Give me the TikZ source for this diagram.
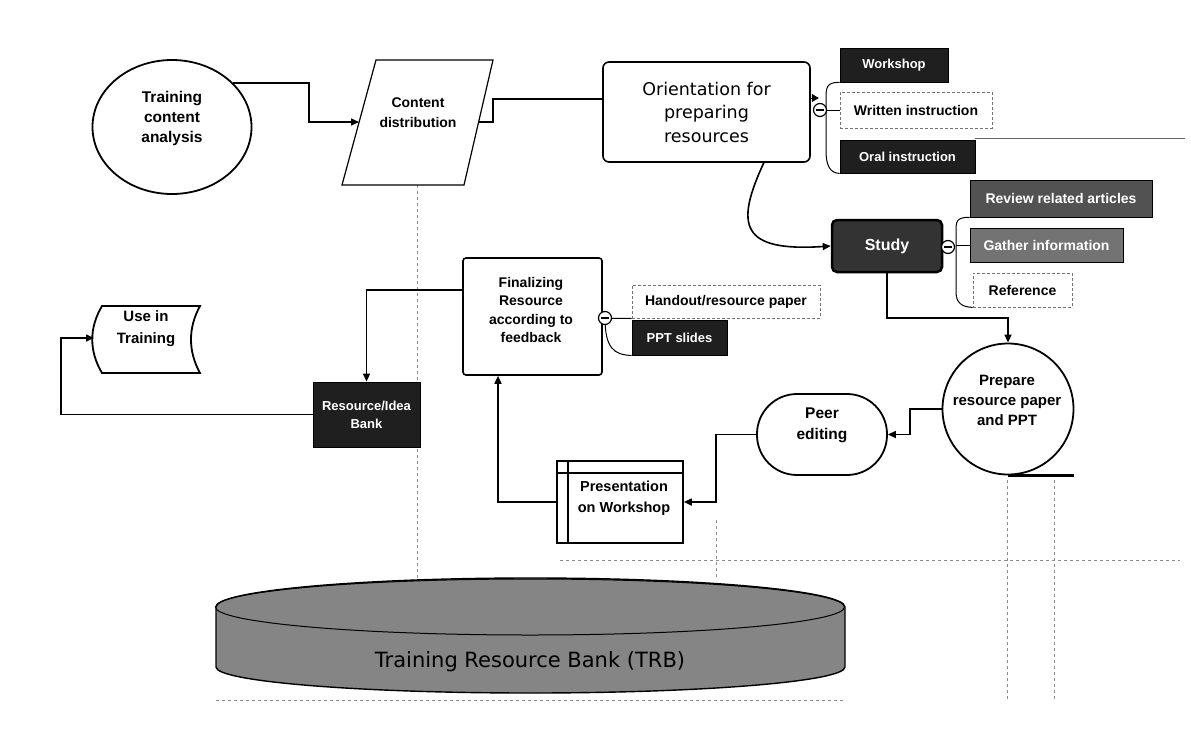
\documentclass[tikz,border=0pt]{standalone}
\usepackage{fontspec}
\setmainfont{DejaVu Sans}
\newfontfamily\libsans{Liberation Sans}
\usetikzlibrary{arrows.meta,calc,shapes.geometric}
\tikzset{
 conn/.style={line width=1.6pt,-{Triangle[length=8pt,width=7pt]}},
 wire/.style={line width=1.6pt},
 thin/.style={line width=1pt},
 blbl/.style={font=\libsans\bfseries\fontsize{14}{20}\selectfont,align=center,inner sep=0pt},
 darkbox/.style={draw=black,fill=black!88,text=white,font=\libsans\bfseries\fontsize{13}{15}\selectfont,inner sep=0pt,line width=0.8pt},
 litebox/.style={draw=black!55,densely dashed,fill=white,font=\libsans\bfseries\fontsize{14}{16}\selectfont,inner sep=0pt,line width=0.8pt},
 minus/.style={circle,draw,fill=white,line width=1.2pt,minimum size=13pt,inner sep=0pt},
 gridl/.style={black!45,line width=0.6pt,dashed},
}
\begin{document}
\begin{tikzpicture}[x=1pt,y=-1pt]
\useasboundingbox (0,0) rectangle (1191,742);
% background guide lines
\draw[gridl] (417,185) -- (417,578);
\draw[black!60,line width=0.6pt] (975,138) -- (1185,138);
\draw[gridl] (1007,480) -- (1007,700);
\draw[gridl] (1054,480) -- (1054,700);
\draw[gridl] (216,700) -- (845,700);
\draw[gridl] (716,520) -- (716,580);
\draw[gridl] (560,560) -- (1180,560);

% nodes
\node[draw,ellipse,line width=1.8pt,minimum width=159pt,minimum height=134pt,inner sep=0pt] (tca) at (172,127) {};
\node[blbl,font=\libsans\bfseries\fontsize{15.5}{20}\selectfont] (tcat) at (172,118) {Training\\content\\analysis};

\draw[line width=1.2pt] (342,185) -- (376,60) -- (493,60) -- (464,185) -- cycle;
\node[blbl] (cd) at (418,113) {Content\\distribution};
\coordinate (cdin) at (359,122);
\coordinate (cdout) at (479,122);

\node[draw,rounded corners=6pt,line width=1.6pt,minimum width=207pt,minimum height=100pt,align=center,font=\fontsize{17.5}{23.5}\selectfont] (or) at (706.5,112) {Orientation for\\preparing\\resources};

\node[darkbox,minimum width=108pt,minimum height=34pt] (ws) at (894,65) {Workshop};
\node[litebox,minimum width=152pt,minimum height=36pt] (wi) at (916,110) {Written instruction};
\node[darkbox,minimum width=135pt,minimum height=33pt] (oi) at (907.5,156.5) {Oral instruction};

\node[draw,rounded corners=5pt,line width=2.5pt,fill=black!80,text=white,minimum width=110pt,minimum height=52pt,font=\libsans\bfseries\fontsize{16}{18}\selectfont] (study) at (887,246) {Study};
\node[darkbox,fill=black!68,minimum width=182pt,minimum height=37pt,font=\libsans\bfseries\fontsize{14}{16}\selectfont] (rv) at (1061,198.5) {Review related articles};
\node[darkbox,fill=black!55,minimum width=153pt,minimum height=34pt,font=\libsans\bfseries\fontsize{14}{16}\selectfont] (gi) at (1046.5,245) {Gather information};
\node[litebox,minimum width=99pt,minimum height=34pt] (rf) at (1022.5,290) {Reference};

\node[draw,circle,line width=1.8pt,minimum size=131pt,inner sep=0pt] (prep) at (1008,409) {};
\node[blbl,font=\libsans\bfseries\fontsize{15}{20}\selectfont] at (1007,400) {Prepare\\resource paper\\and PPT};

\node[draw,rounded corners=40pt,line width=1.8pt,minimum width=130pt,minimum height=81pt] (peer) at (822,434.5) {};
\node[blbl,font=\libsans\bfseries\fontsize{15.5}{21}\selectfont] at (822,425.5) {Peer\\editing};

\node[draw,line width=1.6pt,minimum width=126pt,minimum height=82pt] (pres) at (620,502) {};
\draw[line width=1.6pt] (568,461) -- (568,543);
\draw[line width=1.6pt] (557,473) -- (683,473);
\node[blbl,font=\libsans\bfseries\fontsize{14.5}{21}\selectfont] at (624,498.5) {Presentation\\on Workshop};

\node[draw,rounded corners=3pt,line width=1.6pt,minimum width=139pt,minimum height=117pt] (fin) at (532.5,316.5) {};
\node[blbl,font=\libsans\bfseries\fontsize{14}{18.5}\selectfont] at (531,310) {Finalizing\\Resource\\according to\\feedback};

\node[litebox,minimum width=188pt,minimum height=33pt] (ho) at (726,301.5) {Handout/resource paper};
\node[darkbox,minimum width=95pt,minimum height=35pt] (ppt) at (679.5,337.5) {PPT slides};

\node[darkbox,minimum width=107pt,minimum height=65pt,align=center,font=\libsans\bfseries\fontsize{13}{18}\selectfont] (bank) at (366.5,414.5) {Resource/Idea\\Bank};

\draw[line width=1.8pt] (102,306) -- (200,306) .. controls (188,328) and (188,351) .. (200,373) -- (102,373) .. controls (89,351) and (89,328) .. (102,306) -- cycle;
\node[blbl,font=\libsans\bfseries\fontsize{15}{22}\selectfont] (uitxt) at (146,329) {Use in\\Training};
\coordinate (uit) at (94,338);

% cylinder
\path[fill=black!48,draw=black,line width=1.4pt] (216,607) -- (216,667) arc[start angle=180,end angle=360,x radius=314.5pt,y radius=26pt] -- (845,607) arc[start angle=0,end angle=180,x radius=314.5pt,y radius=29pt] -- cycle;
\draw[line width=1pt] (530,607) ellipse[x radius=314.5pt,y radius=28pt];
\node[font=\fontsize{21}{24}\selectfont,text=black] (trb) at (530,662) {Training Resource Bank (TRB)};

% connectors
\coordinate (j1) at (309,122);
\draw[conn] (tca.36) -| (j1) -- (cdin);
\draw[wire] (cdout) -- (493,122) |- ($(or.west)+(0,-13)$);
\draw[-{Triangle[length=7pt,width=8pt]},line width=1pt] ($(or.east)+(0,-14)$) -- ($(or.east)+(8,-14)$);
\draw[thin] (ws.south west) .. controls (826,82) and (826,88) .. (826,100) -- (826,150) .. controls (826,166) and (830,173) .. (oi.south west);
\draw[thin] (826,110) -- (wi.west);
\node[minus] (m1) at (820,110) {};
\draw[line width=1.2pt] ($(m1)+(-4,0)$) -- ($(m1)+(4,0)$);

\draw[conn] ($(or.south east)+(-47,0)$) .. controls (735,225) and (740,252) .. (study.west);
\draw[thin] (rv.south west) .. controls (956,217) and (956,222) .. (956,232) -- (956,292) .. controls (956,303) and (962,307) .. (rf.south west);
\draw[thin] (956,245) -- (gi.west);
\node[minus] (m2) at (948,247) {};
\draw[line width=1.2pt] ($(m2)+(-4,0)$) -- ($(m2)+(4,0)$);

\draw[conn] (study.south) -- ++(0,45) -| (prep.north);
\draw[line width=2.2pt] (prep.south) -- ++(66,0);
\draw[conn] (prep.west) -- (910,409) |- (peer.east);
\draw[conn] (peer.west) -- ++(-40,0) |- (pres.east);
\draw[conn] (pres.west) -| ($(fin.south)+(-34.5,0)$);
\draw[conn] ($(fin.north west)+(0,33)$) -| (bank.north);
\draw[conn] (bank.west) -| ($(uit)+(-33,0)$) -- (uit);

\draw[thin] (ho.south west) -- (608,318.5);
\draw[thin] (605,318) .. controls (605,348) and (614,355) .. (ppt.south west);
\node[minus] (m3) at (605,318) {};
\draw[line width=1.2pt] ($(m3)+(-4,0)$) -- ($(m3)+(4,0)$);
\end{tikzpicture}
\end{document}
